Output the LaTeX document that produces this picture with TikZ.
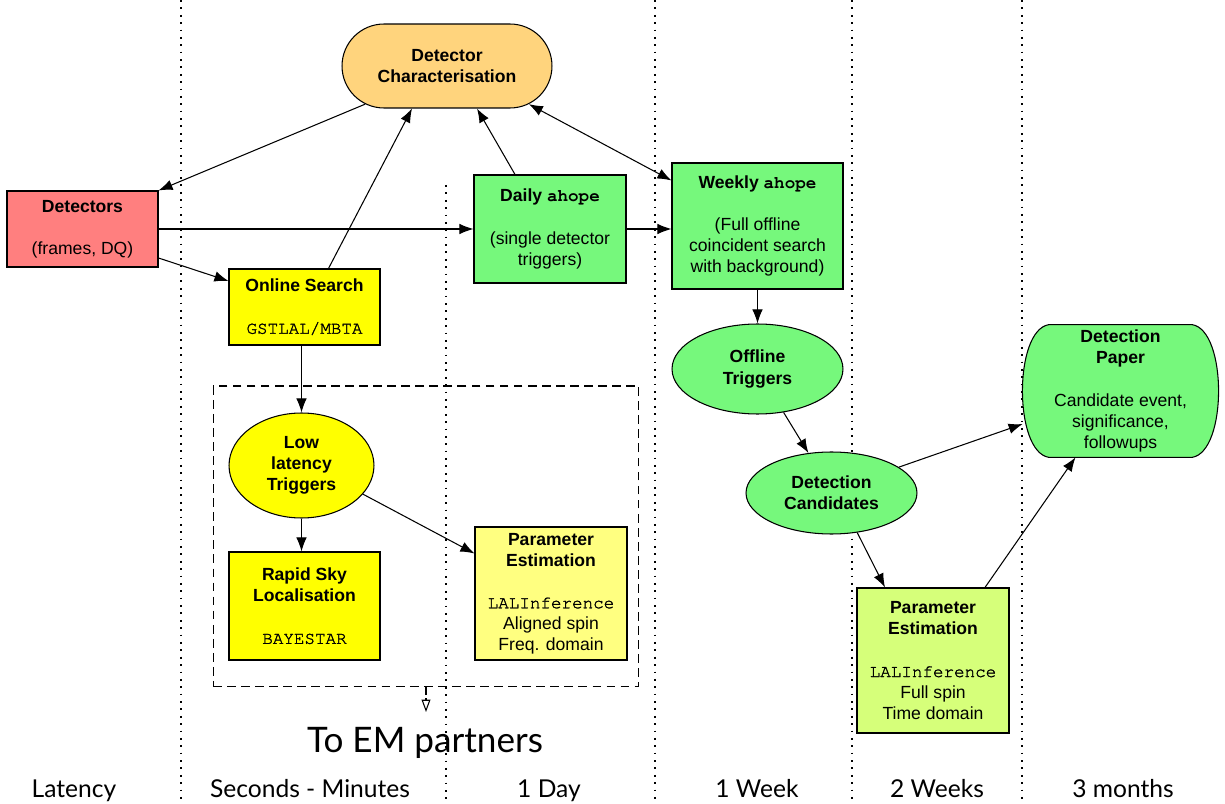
\documentclass[tikz,border=0pt]{standalone}
\usepackage{fontspec}
\setmainfont{Liberation Sans}
\setmonofont{TeX Gyre Cursor}[UprightFeatures={FakeBold=1.5}]
\newfontfamily\gillfont{Lato}
\usepackage{tikz}
\usetikzlibrary{shapes.geometric, shapes.misc, arrows.meta, calc, backgrounds}
\usepackage{xcolor}

\definecolor{dcorange}{RGB}{255,212,125}
\definecolor{detred}{RGB}{255,127,127}
\definecolor{ahgreen}{RGB}{118,248,124}
\definecolor{llyellow}{RGB}{255,255,0}
\definecolor{peyellow}{RGB}{255,255,128}
\definecolor{pelime}{RGB}{214,255,122}

\tikzset{
	flowbox/.style={draw, line width=0.6pt, inner sep=0pt, align=center},
	flowoval/.style={flowbox, ellipse},
	flowarrow/.style={line width=0.6pt, -{Latex[length=8pt,width=6pt]}},
	timeline/.style={line width=0.8pt, dash pattern=on 1pt off 3.2pt},
	timelabel/.style={font=\gillfont\fontsize{14}{16}\selectfont, anchor=base}
}

\begin{document}
\begin{tikzpicture}[x=0.02cm, y=-0.02cm]
				\useasboundingbox (0,0) rectangle (1225,804);
				% time columns
				\draw[timeline] (181,0) -- (181,804);
				\draw[timeline] (446,185) -- (446,804);
				\draw[timeline] (655,0) -- (655,804);
				\draw[timeline] (852,0) -- (852,804);
				\draw[timeline] (1022,0) -- (1022,804);
				% low latency region
				\node[draw, line width=0.6pt, dash pattern=on 5pt off 3pt, minimum width=8.52cm, minimum height=6.02cm, inner sep=0pt] (emb) at (426,385.5) [anchor=north] {};
				% boxes
				\node[flowbox, rounded rectangle, fill=dcorange, minimum width=4.2cm, minimum height=1.68cm] (dc) at (447,66) {\bfseries Detector\\\bfseries Characterisation};
				\node[flowbox, fill=detred, minimum width=3.02cm, minimum height=1.52cm] (det) at (82.5,229) {\bfseries Detectors\\[12pt](frames, DQ)};
				\node[flowbox, fill=llyellow, minimum width=3.02cm, minimum height=1.52cm] (on) at (304.5,307) {\bfseries Online Search\\[12pt]\ttfamily\mdseries GSTLAL/MBTA};
				\node[flowbox, fill=ahgreen, minimum width=3.04cm, minimum height=2.16cm] (daily) at (550,229) {\bfseries Daily {\ttfamily\bfseries ahope}\\[12pt](single detector\\triggers)};
				\node[flowbox, fill=ahgreen, minimum width=3.42cm, minimum height=2.52cm] (wk) at (757.5,226) {\bfseries Weekly {\ttfamily\bfseries ahope}\\[12pt](Full offline\\coincident search\\with background)};
				\node[flowoval, fill=ahgreen, minimum width=3.42cm, minimum height=1.8cm] (off) at (757.5,369) {\bfseries Offline\\\bfseries Triggers};
				\node[flowoval, fill=ahgreen, minimum width=3.42cm, minimum height=1.64cm] (cand) at (831.5,493) {\bfseries Detection\\\bfseries Candidates};
				\node[inner sep=0pt, align=center, minimum width=3.9cm, minimum height=2.64cm] (paper) at (1120.5,391) {\bfseries Detection\\\bfseries Paper\\[12pt]Candidate event,\\significance,\\followups};
				\begin{scope}[on background layer]
					\draw[line width=0.6pt, fill=ahgreen] ($(paper.north west)+(26,0)$) -- ($(paper.north east)+(-26,0)$)
						.. controls ($(paper.north east)+(9,6)$) and ($(paper.south east)+(9,-6)$) .. ($(paper.south east)+(-26,0)$)
						-- ($(paper.south west)+(26,0)$)
						.. controls ($(paper.south west)+(-9,-6)$) and ($(paper.north west)+(-9,6)$) .. cycle;
				\end{scope}
				\node[flowoval, fill=llyellow, minimum width=2.9cm, minimum height=2.1cm] (low) at (301.5,465.5) {\bfseries Low\\\bfseries latency\\\bfseries Triggers};
				\node[flowbox, fill=llyellow, minimum width=3.02cm, minimum height=2.16cm] (rapid) at (304.5,606) {\bfseries Rapid Sky\\\bfseries Localisation\\[12pt]\ttfamily\mdseries BAYESTAR};
				\node[flowbox, fill=peyellow, minimum width=3.04cm, minimum height=2.66cm] (pe1) at (551,593.5) {\bfseries Parameter\\\bfseries Estimation\\[12pt]\texttt{LALInference}\\Aligned spin\\Freq. domain};
				\node[flowbox, fill=pelime, minimum width=3.04cm, minimum height=2.9cm] (pe2) at (933,660.5) {\bfseries Parameter\\\bfseries Estimation\\[12pt]\texttt{LALInference}\\Full spin\\Time domain};
				% connectors
				\draw[flowarrow] (dc.205) -- (det.north east);
				\draw[flowarrow] ([xshift=0.48cm]on.north) -- ([xshift=-0.7cm]dc.south);
				\draw[flowarrow] ([xshift=-0.7cm]daily.north) -- ([xshift=0.6cm]dc.south);
				\draw[flowarrow, {Latex[length=8pt,width=6pt]}-{Latex[length=8pt,width=6pt]}] (dc.-25) -- ([yshift=-0.36cm]wk.north west);
				\draw[flowarrow] (det.east) -- (daily.west);
				\draw[flowarrow] ([yshift=-0.58cm]det.east) -- ([yshift=0.52cm]on.west);
				\draw[flowarrow] (daily.east) -- (wk.west |- daily.east);
				\draw[flowarrow] (on.south -| low.north) -- (low.north);
				\draw[flowarrow] (low.south) -- (rapid.north -| low.south);
				\draw[flowarrow] (low.-25) -- ([yshift=0.8cm]pe1.west);
				\draw[flowarrow] (wk.south) -- (off.north);
				\draw[flowarrow] (off.-59) -- (cand.120);
				\draw[flowarrow] (cand.21) -- ([yshift=-0.66cm]paper.west);
				\draw[flowarrow] (cand.-57) -- ([xshift=-0.96cm]pe2.north);
				\draw[flowarrow] ([xshift=1.04cm]pe2.north) -- ([xshift=-0.9cm]paper.south);
				% to EM partners
				\node[font=\gillfont\fontsize{20}{24}\selectfont, anchor=base] (em) at (425,752) {To EM partners};
				\coordinate (emtip) at (426,712);
				\draw[line width=0.6pt, dash pattern=on 4pt off 2pt, -{Triangle[open,length=7pt,width=5pt]}] (emb.south) -- (emtip);
				% time labels
				\node[timelabel] (tlat) at (74,797) {Latency};
				\node[timelabel] (tsec) at (310,797) {Seconds - Minutes};
				\node[timelabel] (tday) at (549,797) {1 Day};
				\node[timelabel] (tweek) at (757,797) {1 Week};
				\node[timelabel] (ttwo) at (937,797) {2 Weeks};
				\node[timelabel] (tmon) at (1123,797) {3 months};
			\end{tikzpicture}
\end{document}
